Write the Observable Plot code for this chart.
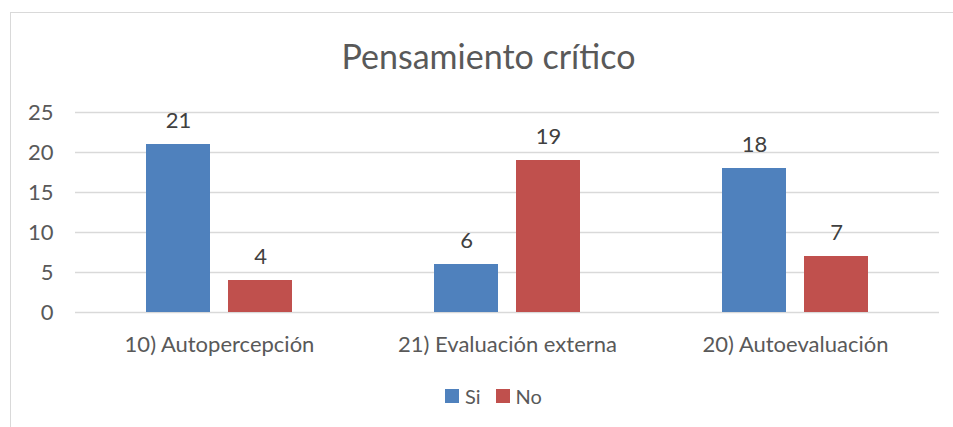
<!DOCTYPE html>
<html>
<head>
<meta charset="utf-8">
<script src="https://cdn.jsdelivr.net/npm/d3@7"></script>
<script src="https://cdn.jsdelivr.net/npm/@observablehq/plot@0.6"></script>
<style>
  html, body { margin: 0; padding: 0; background: #fff; }
  #wrap { position: relative; width: 953px; height: 427px; overflow: hidden; font-family: Lato, "Open Sans", sans-serif; color: #595959; }
  #frame { position: absolute; left: 10px; top: 12px; width: 960px; height: 430px; border-left: 1px solid #D9D9D9; border-top: 1px solid #D9D9D9; box-sizing: border-box; }
  #title { position: absolute; left: 0; width: 977px; top: 36px; text-align: center; font-size: 34px; line-height: 40px; white-space: nowrap; }
  #chart { position: absolute; left: 0; top: 0; }
  #legend { position: absolute; top: 385px; left: 445px; height: 22px; display: flex; align-items: center; font-size: 20px; line-height: 22px; }
  .sw { display: inline-block; width: 14px; height: 14px; margin-right: 6px; }
  .item { display: flex; align-items: center; margin-right: 15px; }
</style>
</head>
<body>
<div id="wrap">
  <div id="frame"></div>
  <div id="chart"></div>
  <div id="title"></div>
  <div id="legend"></div>
</div>
<script>
const titleText = "Pensamiento crítico";
const categories = ["10) Autopercepción", "21) Evaluación externa", "20) Autoevaluación"];
const seriesNames = ["Si", "No"];
const siValues = [21, 6, 18];
const noValues = [4, 19, 7];
const yTicks = [0, 5, 10, 15, 20, 25];
const colors = ["#4F81BD", "#C0504D"];

const data = [];
categories.forEach((c, i) => {
  data.push({category: c, series: seriesNames[0], value: siValues[i]});
  data.push({category: c, series: seriesNames[1], value: noValues[i]});
});

document.getElementById("title").textContent = titleText;

const chart = Plot.plot({
  width: 953,
  height: 427,
  marginLeft: 74,
  marginRight: 14,
  marginTop: 112,
  marginBottom: 115,
  style: {fontFamily: "Lato, 'Open Sans', sans-serif", fontSize: "22px", color: "#595959", background: "transparent", overflow: "visible"},
  fx: {domain: categories, padding: 0, label: null, tickSize: 0, tickPadding: 24},
  x: {domain: seriesNames, paddingInner: 0.22, paddingOuter: 0.856, axis: null},
  y: {domain: [0, 25], ticks: yTicks, label: null, tickSize: 0, tickPadding: 22},
  color: {domain: seriesNames, range: colors},
  marks: [
    Plot.ruleY(yTicks, {stroke: "#D9D9D9", strokeWidth: 1.5, strokeOpacity: 1}),
    Plot.barY(data, {fx: "category", x: "series", y: "value", fill: "series"}),
    Plot.text(data, {fx: "category", x: "series", y: "value", text: d => String(d.value), dy: -24, fill: "#404040", fontSize: 22})
  ]
});
document.getElementById("chart").appendChild(chart);

const legend = document.getElementById("legend");
seriesNames.forEach((s, i) => {
  const item = document.createElement("span");
  item.className = "item";
  const sw = document.createElement("span");
  sw.className = "sw";
  sw.style.background = colors[i];
  const label = document.createElement("span");
  label.textContent = s;
  item.appendChild(sw);
  item.appendChild(label);
  legend.appendChild(item);
});
</script>
</body>
</html>
